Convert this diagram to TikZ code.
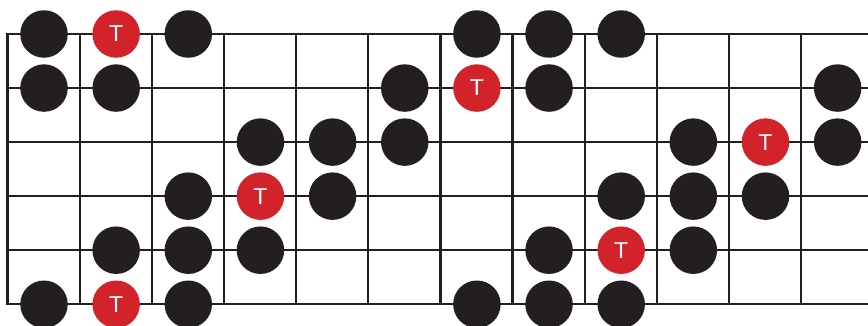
\documentclass[tikz,border=0pt]{standalone}
\usepackage{fontspec}
\setmainfont{Liberation Sans}
\usetikzlibrary{positioning}
\definecolor{fretgray}{RGB}{35,31,32}
\definecolor{rootred}{RGB}{210,35,42}

\begin{document}
\begin{tikzpicture}[
    x=1pt, y=1pt,
    fretline/.style={draw=fretgray, line width=2.2pt, line cap=rect},
    note/.style={circle, fill=fretgray, minimum size=47.5pt, inner sep=0pt},
    root/.style={note, fill=rootred, text=white, font=\fontsize{23}{23}\selectfont}
]
\clip (0,0) rectangle (868,325);
% strings
\foreach \s in {1,...,6} {
  \coordinate (sl\s) at (7.5, {291-54.05*(\s-1)});
  \coordinate (sr\s) at (868, {291-54.05*(\s-1)});
  \draw[fretline] (sl\s) -- (sr\s);
}
% frets
\foreach \f in {0,...,11} {
  \coordinate (ft\f) at ({7.5+72.15*\f}, 291);
  \coordinate (fb\f) at ({7.5+72.15*\f}, 20.75);
  \draw[fretline] (ft\f) -- (fb\f);
}
% scale notes
\foreach \s/\f in {1/1,1/3,1/7,1/8,1/9,
                   2/1,2/2,2/6,2/8,2/12,
                   3/4,3/5,3/6,3/10,3/12,
                   4/3,4/5,4/9,4/10,4/11,
                   5/2,5/3,5/4,5/8,5/10,
                   6/1,6/3,6/7,6/8,6/9}
  \node[note] (n\s-\f) at ({72.15*\f-28.15}, {291-54.05*(\s-1)}) {};
% tonic notes
\foreach \s/\f in {1/2,2/7,3/11,4/4,5/9,6/2}
  \node[root] (t\s-\f) at ({72.15*\f-28.15}, {291-54.05*(\s-1)}) {T};
\end{tikzpicture}
\end{document}
